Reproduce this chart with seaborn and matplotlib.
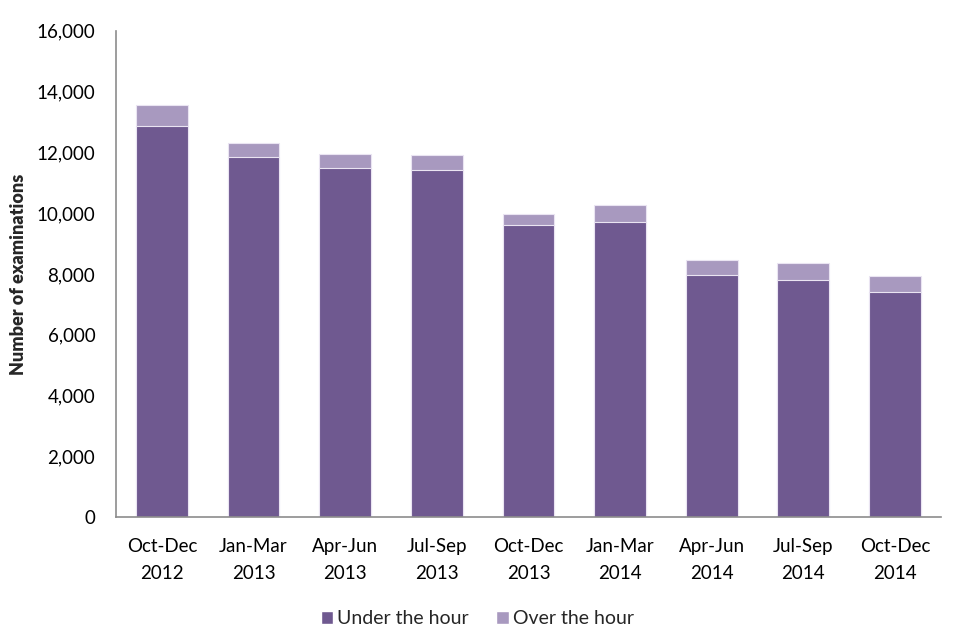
import matplotlib
matplotlib.use('Agg')
import matplotlib.pyplot as plt
import seaborn as sns
import pandas as pd
from matplotlib.patches import Patch
from matplotlib.ticker import FuncFormatter

# %%
periods = ['Oct-Dec\n2012', 'Jan-Mar\n2013', 'Apr-Jun\n2013', 'Jul-Sep\n2013', 'Oct-Dec\n2013',
           'Jan-Mar\n2014', 'Apr-Jun\n2014', 'Jul-Sep\n2014', 'Oct-Dec\n2014']
under_hour = [12850, 11830, 11480, 11420, 9610, 9710, 7950, 7810, 7420]
over_hour = [700, 490, 470, 480, 370, 550, 500, 540, 500]

dark = '#6F5990'
light = '#A899BF'

df = pd.DataFrame({'period': periods, 'under': under_hour, 'over': over_hour})
df['total'] = df['under'] + df['over']

# %%
sns.set_style('white')
plt.rcParams['font.family'] = ['Lato', 'DejaVu Sans']

fig = plt.figure(figsize=(9.6, 6.4), dpi=100)
ax = fig.add_axes([0.121, 0.192, 0.859, 0.760])

sns.barplot(data=df, x='period', y='total', color=light, width=0.565,
            edgecolor='#EAE4F2', linewidth=0.8, saturation=1, ax=ax)
sns.barplot(data=df, x='period', y='under', color=dark, width=0.565,
            edgecolor='#EAE4F2', linewidth=0.8, saturation=1, ax=ax)

ax.set_ylim(0, 16000)
ax.set_xlim(-0.5, len(periods) - 0.5)
ax.set_yticks(range(0, 16001, 2000))
ax.yaxis.set_major_formatter(FuncFormatter(lambda v, p: f'{int(v):,}'))
ax.set_ylabel('Number of examinations', fontsize=13, fontweight='heavy')
ax.yaxis.set_label_coords(-0.108, 0.5)
ax.set_xlabel('')

ax.set_xticks([i - 0.5 for i in range(len(periods) + 1)], minor=True)
ax.tick_params(axis='x', which='major', length=0, pad=15, labelsize=13.5, colors='black')
ax.tick_params(axis='x', which='minor', length=6, width=1, color='#8C8C8C', direction='out')
ax.tick_params(axis='y', length=6, width=1, color='#8C8C8C', direction='out', labelsize=13.5, pad=9,
               labelcolor='black')
for lbl in ax.get_xticklabels():
    lbl.set_linespacing(1.75)

for s in ['top', 'right']:
    ax.spines[s].set_visible(False)
for s in ['left', 'bottom']:
    ax.spines[s].set_color('#8C8C8C')
    ax.spines[s].set_linewidth(1.2)

handles = [Patch(facecolor=dark, label='Under the hour'), Patch(facecolor=light, label='Over the hour')]
fig.legend(handles=handles, loc='center', bbox_to_anchor=(0.497, 0.033), ncol=2, frameon=False,
           fontsize=14, handlelength=0.65, handleheight=0.65, handletextpad=0.2, columnspacing=1.4)

fig.savefig('out.png', dpi=100)
